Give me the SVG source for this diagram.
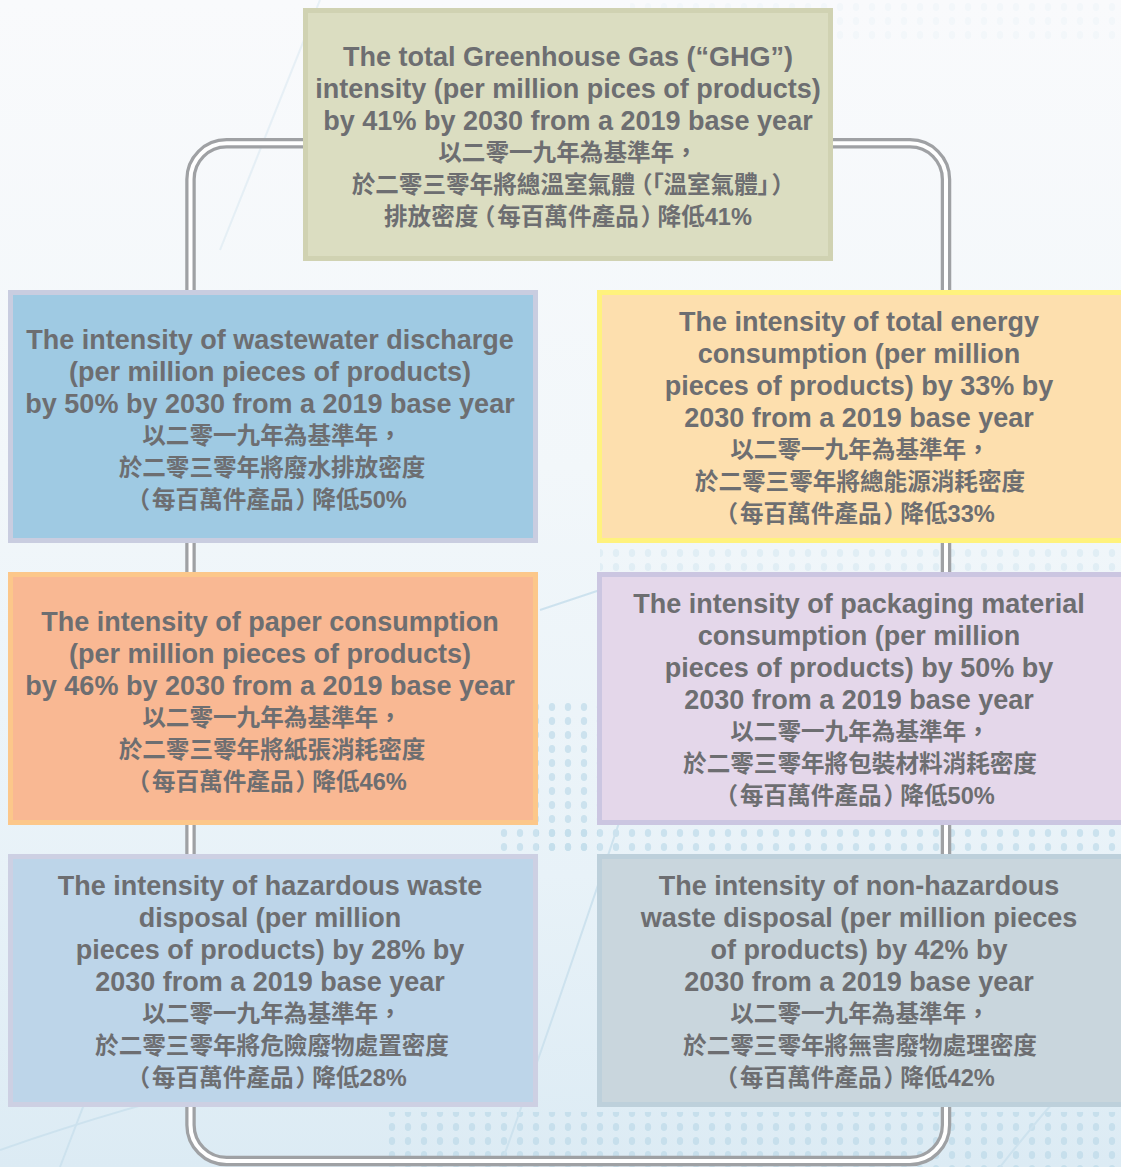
<svg xmlns="http://www.w3.org/2000/svg" width="1121" height="1167" viewBox="0 0 1121 1167">
<defs>
<linearGradient id="bg" x1="0" y1="0" x2="0" y2="1">
<stop offset="0" stop-color="#f9fafc"/>
<stop offset="0.4" stop-color="#f2f7fa"/>
<stop offset="0.75" stop-color="#e8f2f8"/>
<stop offset="1" stop-color="#dcebf4"/>
</linearGradient>
<pattern id="dots" width="16" height="14" patternUnits="userSpaceOnUse">
<ellipse cx="8" cy="7" rx="3.2" ry="4" fill="#c4deeb"/>
</pattern>
<style>
.en{font-family:"Liberation Sans",Arial,"Noto Sans CJK TC",sans-serif;font-weight:bold;font-size:27px;fill:#6d6e71;text-anchor:middle}
.zh{font-family:"Liberation Sans","Noto Sans CJK TC",sans-serif;font-weight:bold;font-size:23.6px;fill:#6d6e71;text-anchor:middle}
.p{font-feature-settings:"palt"}
.pipe-o{fill:none;stroke:#9fa1a4;stroke-width:10.5}
.pipe-i{fill:none;stroke:#ffffff;stroke-width:4}
.deco{fill:none;stroke:#cde2ee;stroke-width:2}
</style>
</defs>
<g id="background">
<rect x="0" y="0" width="1121" height="1167" fill="url(#bg)"/>
<rect x="380" y="1112" width="741" height="55" fill="url(#dots)" opacity="0.9"/>
<rect x="500" y="827" width="621" height="27" fill="url(#dots)" opacity="0.8"/>
<rect x="538" y="700" width="60" height="154" fill="url(#dots)" opacity="0.8"/>
<rect x="600" y="545" width="521" height="26" fill="url(#dots)" opacity="0.35"/>
<rect x="630" y="0" width="491" height="40" fill="url(#dots)" opacity="0.12"/>
<path class="deco" d="M0 1150 Q200 1080 430 1040"/>
<path class="deco" d="M60 1167 L170 880"/>
<path class="deco" d="M500 1167 Q560 1000 640 760"/>
<path class="deco" d="M1000 1167 Q1060 1090 1121 1030"/>
<path class="deco" d="M540 610 L600 590"/>
<path class="deco" d="M160 540 L250 290" opacity="0.5"/>
<path class="deco" d="M220 250 L320 0" opacity="0.4"/>
</g>
<g id="connectors">
<path class="pipe-o" d="M226.5 143.3 H910 A36 36 0 0 1 946 179.3 V1125 A36 36 0 0 1 910 1161 H226.5 A36 36 0 0 1 190.5 1125 V179.3 A36 36 0 0 1 226.5 143.3 Z"/>
<path class="pipe-i" d="M226.5 143.3 H910 A36 36 0 0 1 946 179.3 V1125 A36 36 0 0 1 910 1161 H226.5 A36 36 0 0 1 190.5 1125 V179.3 A36 36 0 0 1 226.5 143.3 Z"/>
</g>
<g id="node-ghg">
<rect x="305.5" y="10.5" width="525" height="248" fill="#dbddc1" stroke="#d0d2b2" stroke-width="5"/>
<text class="en" x="568" y="65.5">The total Greenhouse Gas (“GHG”)</text>
<text class="en" x="568" y="97.5">intensity (per million pices of products)</text>
<text class="en" x="568" y="129.5">by 41% by 2030 from a 2019 base year</text>
<text class="zh" x="568" y="161">以二零一九年為基準年，</text>
<text class="zh p" x="568" y="193">於二零三零年將總溫室氣體<tspan dx="5">（「</tspan>溫室氣體」<tspan dx="3">）</tspan></text>
<text class="zh p" x="568" y="225">排放密度<tspan dx="4">（</tspan><tspan dx="3">每百萬件產品</tspan><tspan dx="3">）</tspan><tspan dx="4">降低41%</tspan></text>
</g>
<g id="node-wastewater">
<rect x="10.5" y="292.5" width="525" height="248" fill="#9fcae3" stroke="#c9cde0" stroke-width="5"/>
<text class="en" x="270" y="348.5">The intensity of wastewater discharge</text>
<text class="en" x="270" y="380.5">(per million pieces of products)</text>
<text class="en" x="270" y="412.5">by 50% by 2030 from a 2019 base year</text>
<text class="zh" x="272" y="443.5">以二零一九年為基準年，</text>
<text class="zh" x="272" y="475.5">於二零三零年將廢水排放密度</text>
<text class="zh p" x="272" y="507.5">（<tspan dx="3">每百萬件產品</tspan><tspan dx="3">）</tspan><tspan dx="4">降低50%</tspan></text>
</g>
<g id="node-energy">
<rect x="599.5" y="292.5" width="526" height="248" fill="#fddfae" stroke="#fff27d" stroke-width="5"/>
<text class="en" x="859" y="330.5">The intensity of total energy</text>
<text class="en" x="859" y="362.5">consumption (per million</text>
<text class="en" x="859" y="394.5">pieces of products) by 33% by</text>
<text class="en" x="859" y="426.5">2030 from a 2019 base year</text>
<text class="zh" x="860" y="457.5">以二零一九年為基準年，</text>
<text class="zh" x="860" y="489.5">於二零三零年將總能源消耗密度</text>
<text class="zh p" x="860" y="521.5">（<tspan dx="3">每百萬件產品</tspan><tspan dx="3">）</tspan><tspan dx="4">降低33%</tspan></text>
</g>
<g id="node-paper">
<rect x="10.5" y="574.5" width="525" height="248" fill="#f9b893" stroke="#fcc78a" stroke-width="5"/>
<text class="en" x="270" y="630.5">The intensity of paper consumption</text>
<text class="en" x="270" y="662.5">(per million pieces of products)</text>
<text class="en" x="270" y="694.5">by 46% by 2030 from a 2019 base year</text>
<text class="zh" x="272" y="725.5">以二零一九年為基準年，</text>
<text class="zh" x="272" y="757.5">於二零三零年將紙張消耗密度</text>
<text class="zh p" x="272" y="789.5">（<tspan dx="3">每百萬件產品</tspan><tspan dx="3">）</tspan><tspan dx="4">降低46%</tspan></text>
</g>
<g id="node-packaging">
<rect x="599.5" y="574.5" width="526" height="248" fill="#e4d7ea" stroke="#cbc6e1" stroke-width="5"/>
<text class="en" x="859" y="612.5">The intensity of packaging material</text>
<text class="en" x="859" y="644.5">consumption (per million</text>
<text class="en" x="859" y="676.5">pieces of products) by 50% by</text>
<text class="en" x="859" y="708.5">2030 from a 2019 base year</text>
<text class="zh" x="860" y="739.5">以二零一九年為基準年，</text>
<text class="zh" x="860" y="771.5">於二零三零年將包裝材料消耗密度</text>
<text class="zh p" x="860" y="803.5">（<tspan dx="3">每百萬件產品</tspan><tspan dx="3">）</tspan><tspan dx="4">降低50%</tspan></text>
</g>
<g id="node-hazardous">
<rect x="10.5" y="856.5" width="525" height="248" fill="#bdd5e9" stroke="#cdd0e3" stroke-width="5"/>
<text class="en" x="270" y="894.5">The intensity of hazardous waste</text>
<text class="en" x="270" y="926.5">disposal (per million</text>
<text class="en" x="270" y="958.5">pieces of products) by 28% by</text>
<text class="en" x="270" y="990.5">2030 from a 2019 base year</text>
<text class="zh" x="272" y="1021.5">以二零一九年為基準年，</text>
<text class="zh" x="272" y="1053.5">於二零三零年將危險廢物處置密度</text>
<text class="zh p" x="272" y="1085.5">（<tspan dx="3">每百萬件產品</tspan><tspan dx="3">）</tspan><tspan dx="4">降低28%</tspan></text>
</g>
<g id="node-nonhazardous">
<rect x="599.5" y="856.5" width="526" height="248" fill="#c9d6dd" stroke="#bdd0db" stroke-width="5"/>
<text class="en" x="859" y="894.5">The intensity of non-hazardous</text>
<text class="en" x="859" y="926.5">waste disposal (per million pieces</text>
<text class="en" x="859" y="958.5">of products) by 42% by</text>
<text class="en" x="859" y="990.5">2030 from a 2019 base year</text>
<text class="zh" x="860" y="1021.5">以二零一九年為基準年，</text>
<text class="zh" x="860" y="1053.5">於二零三零年將無害廢物處理密度</text>
<text class="zh p" x="860" y="1085.5">（<tspan dx="3">每百萬件產品</tspan><tspan dx="3">）</tspan><tspan dx="4">降低42%</tspan></text>
</g>
</svg>
